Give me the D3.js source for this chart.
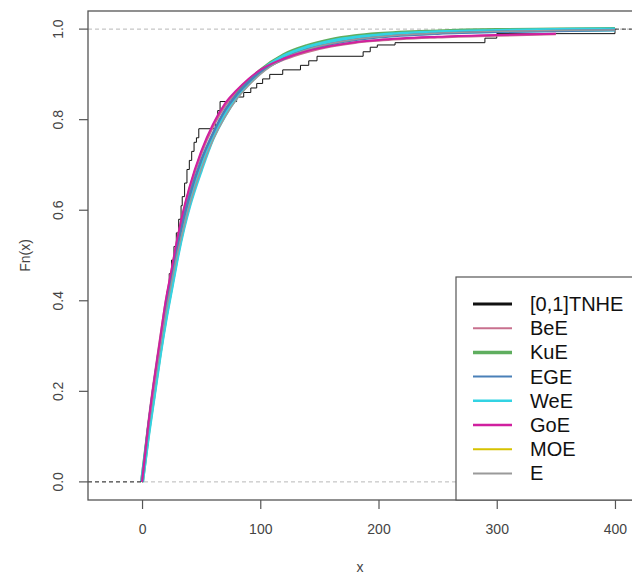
<!DOCTYPE html>
<html>
<head>
<meta charset="utf-8">
<script src="https://cdn.jsdelivr.net/npm/d3@7"></script>
<style>
  body { margin: 0; background: #fff; }
  svg { display: block; }
</style>
</head>
<body>
<div class="canvas"></div>
<script>
// data
var xTicks = [0, 100, 200, 300, 400];
var yTicks = [0.0, 0.2, 0.4, 0.6, 0.8, 1.0];

// empirical cdf: knot positions and the value after each knot
var ecdfX = [1, 2, 3, 5, 7, 9, 11, 13, 15, 17, 19, 21, 23, 25, 27, 29, 31, 33, 34, 36, 38, 40, 42, 44, 46, 48,
             62, 64, 66, 80, 86, 92, 97, 102, 108, 119, 134, 141, 148, 187, 193, 199, 214, 290, 300, 400];
var ecdfY = [0.02, 0.05, 0.08, 0.12, 0.16, 0.20, 0.24, 0.28, 0.31, 0.35, 0.39, 0.42, 0.46, 0.49, 0.52, 0.55, 0.58, 0.61, 0.63, 0.66, 0.69, 0.71, 0.73, 0.75, 0.76, 0.78,
             0.80, 0.82, 0.84, 0.85, 0.86, 0.87, 0.88, 0.89, 0.90, 0.91, 0.92, 0.93, 0.94, 0.95, 0.96, 0.965, 0.97, 0.98, 0.99, 1.0];

// fitted cdfs on a common grid
var gridX = [0, 5, 10, 15, 20, 25, 30, 35, 40, 50, 60, 70, 80, 90, 100, 120, 140, 160, 180, 200, 250, 300, 350, 400];
var beE  = [0, 0.12, 0.22, 0.31, 0.395, 0.465, 0.535, 0.595, 0.645, 0.725, 0.785, 0.83, 0.862, 0.887, 0.907, 0.933, 0.95, 0.962, 0.97, 0.975, 0.982, 0.986, 0.989];
var kuE  = [0, 0.105, 0.195, 0.285, 0.365, 0.435, 0.505, 0.565, 0.615, 0.695, 0.763, 0.813, 0.853, 0.884, 0.908, 0.943, 0.963, 0.976, 0.984, 0.989, 0.995, 0.998, 0.999, 1.0];
var egE  = [0, 0.115, 0.215, 0.30, 0.385, 0.455, 0.52, 0.58, 0.63, 0.71, 0.77, 0.82, 0.855, 0.883, 0.905, 0.935, 0.955, 0.967, 0.976, 0.982, 0.99, 0.994, 0.996, 0.998];
var weE  = [0, 0.10, 0.19, 0.28, 0.36, 0.43, 0.50, 0.56, 0.61, 0.69, 0.76, 0.81, 0.85, 0.88, 0.905, 0.94, 0.96, 0.973, 0.981, 0.986, 0.993, 0.996, 0.998, 0.999];
var goE  = [0, 0.12, 0.22, 0.31, 0.40, 0.47, 0.54, 0.60, 0.65, 0.73, 0.79, 0.835, 0.865, 0.89, 0.91, 0.935, 0.952, 0.963, 0.971, 0.976, 0.983, 0.987, 0.99];
var moE  = [0, 0.10, 0.19, 0.28, 0.36, 0.43, 0.50, 0.56, 0.61, 0.69, 0.758, 0.808, 0.848, 0.878, 0.903, 0.938, 0.959, 0.972, 0.98, 0.985, 0.992, 0.995, 0.997, 0.998];
var expE = [0, 0.11, 0.20, 0.29, 0.37, 0.44, 0.505, 0.56, 0.61, 0.69, 0.755, 0.805, 0.845, 0.875, 0.90, 0.935, 0.955, 0.968, 0.977, 0.983, 0.991, 0.995, 0.997, 0.998];

var legendNames = ["[0,1]TNHE", "BeE", "KuE", "EGE", "WeE", "GoE", "MOE", "E"];
var legendColors = ["#111111", "#c8708e", "#5fae5f", "#4a80b8", "#33d3e3", "#d0209f", "#d6c200", "#9a9a9a"];
var legendWidths = [3, 2, 3.5, 2, 2.5, 2.5, 2, 2];

var fits = [
    { values: beE,  color: legendColors[1], width: 2.5 },
    { values: kuE,  color: legendColors[2], width: 4 },
    { values: moE,  color: legendColors[6], width: 2 },
    { values: weE,  color: legendColors[4], width: 4 },
    { values: egE,  color: legendColors[3], width: 2.5 },
    { values: expE, color: legendColors[7], width: 1.5 },
    { values: goE,  color: legendColors[5], width: 2 }
];

var svg = d3.select(".canvas").append("svg").attr("width", 632).attr("height", 579);

plot = { 'left': 88, 'right': 632, 'top': 11, 'bottom': 500 };

var x = d3.scaleLinear().domain([-45.7, 414.4]).range([plot.left, plot.right]);
var y = d3.scaleLinear().domain([-0.04, 1.04]).range([plot.bottom, plot.top]);

const graph = svg.append("g");

// dashed reference lines at 0 and 1
[0, 1].forEach(function (v) {
    graph.append("line")
        .attr("x1", plot.left).attr("x2", plot.right)
        .attr("y1", y(v)).attr("y2", y(v))
        .attr("stroke", "#b8b8b8")
        .attr("stroke-dasharray", "4,3");
});

// empirical cdf as a step line
var steps = [[0, 0]].concat(ecdfX.map(function (v, i) { return [v, ecdfY[i]]; }));
graph.append("path")
    .attr("d", d3.line()
        .x(function (d) { return x(d[0]); })
        .y(function (d) { return y(d[1]); })
        .curve(d3.curveStepAfter)(steps))
    .attr("fill", "none")
    .attr("stroke", "#111")
    .attr("stroke-width", 1);

// fitted curves
var line = d3.line()
    .x(function (d) { return x(d[0]); })
    .y(function (d) { return y(d[1]); })
    .curve(d3.curveMonotoneX);

fits.forEach(function (f) {
    var pts = f.values.map(function (v, i) { return [gridX[i], v]; });
    graph.append("path")
        .attr("d", line(pts))
        .attr("fill", "none")
        .attr("stroke", f.color)
        .attr("stroke-width", f.width);
});

// ecdf tails outside the data
graph.append("line")
    .attr("x1", plot.left).attr("x2", x(0))
    .attr("y1", y(0)).attr("y2", y(0))
    .attr("stroke", "#333")
    .attr("stroke-dasharray", "4,3");
graph.append("line")
    .attr("x1", x(ecdfX[ecdfX.length - 1])).attr("x2", plot.right)
    .attr("y1", y(1)).attr("y2", y(1))
    .attr("stroke", "#333")
    .attr("stroke-dasharray", "4,3");

// plot box
graph.append("rect")
    .attr("x", plot.left)
    .attr("y", plot.top)
    .attr("width", plot.right - plot.left + 2)
    .attr("height", plot.bottom - plot.top)
    .attr("fill", "none")
    .attr("stroke", "#555")
    .attr("stroke-width", 1.3);

// axes
var xAxis = graph.append("g")
    .attr("transform", "translate(0," + plot.bottom + ")")
    .call(d3.axisBottom(x).tickValues(xTicks).tickSize(9).tickPadding(15).tickFormat(d3.format("d")));
var yAxis = graph.append("g")
    .attr("transform", "translate(" + plot.left + ",0)")
    .call(d3.axisLeft(y).tickValues(yTicks).tickSize(9).tickPadding(7).tickFormat(d3.format(".1f")));

[xAxis, yAxis].forEach(function (a) {
    a.select(".domain").remove();
    a.selectAll("line").attr("stroke", "#555").attr("stroke-width", 1.2);
    a.selectAll("text")
        .attr("fill", "#444")
        .attr("font-family", "Liberation Sans, Arial, sans-serif")
        .attr("font-size", "14px");
});
yAxis.selectAll("text")
    .attr("text-anchor", "middle")
    .attr("dy", null)
    .attr("x", null)
    .attr("transform", function (d) { return "translate(-25," + y(d) + ") rotate(-90)"; })
    .attr("y", 0);
yAxis.selectAll(".tick").attr("transform", null);
yAxis.selectAll(".tick line").attr("y1", function (d) { return y(d); }).attr("y2", function (d) { return y(d); });

// axis titles
graph.append("text")
    .attr("x", (plot.left + plot.right) / 2)
    .attr("y", 572)
    .attr("text-anchor", "middle")
    .attr("fill", "#444")
    .attr("font-family", "Liberation Sans, Arial, sans-serif")
    .attr("font-size", "14px")
    .text("x");
graph.append("text")
    .attr("transform", "translate(30," + ((plot.top + plot.bottom) / 2) + ") rotate(-90)")
    .attr("text-anchor", "middle")
    .attr("fill", "#444")
    .attr("font-family", "Liberation Sans, Arial, sans-serif")
    .attr("font-size", "14px")
    .text("Fn(x)");

// legend
var leg = graph.append("g");
leg.append("rect")
    .attr("x", 456).attr("y", 277)
    .attr("width", 200).attr("height", plot.bottom - 277)
    .attr("fill", "#fff")
    .attr("stroke", "#555")
    .attr("stroke-width", 1.2);

for (let i = 0; i < legendNames.length; i++) {
    var ly = 304 + i * 24.2;
    leg.append("line")
        .attr("x1", 473).attr("x2", 512)
        .attr("y1", ly).attr("y2", ly)
        .attr("stroke", legendColors[i])
        .attr("stroke-width", legendWidths[i]);
    leg.append("text")
        .attr("x", 530)
        .attr("y", ly + 7)
        .attr("fill", "#111")
        .attr("font-family", "Liberation Sans, Arial, sans-serif")
        .attr("font-size", "20px")
        .text(legendNames[i]);
}
</script>
</body>
</html>
